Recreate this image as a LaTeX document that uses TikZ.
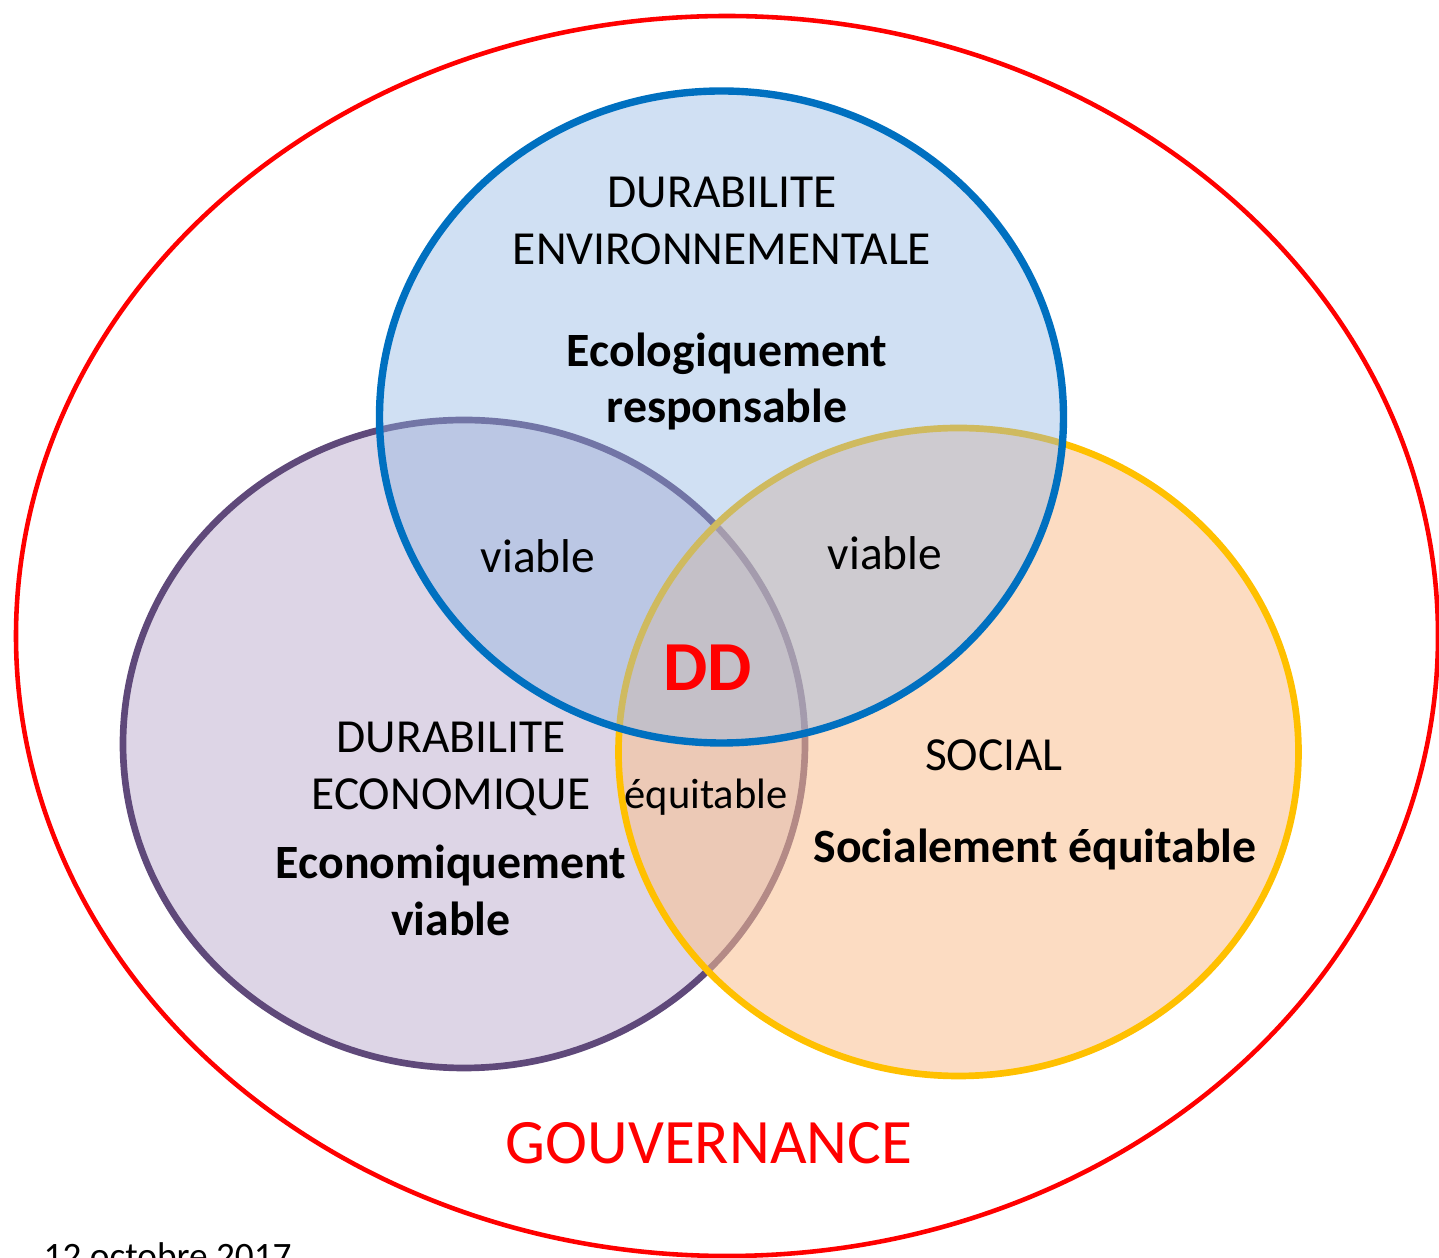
\documentclass[tikz,border=0pt]{standalone}
\usepackage{fontspec}
\setmainfont{Carlito}
\usetikzlibrary{shapes.geometric}

\definecolor{bleu}{HTML}{0070C0}
\definecolor{bleuclair}{HTML}{8EB4E3}
\definecolor{violet}{HTML}{5F497A}
\definecolor{violetclair}{HTML}{B3A2C7}
\definecolor{orange}{HTML}{FFC000}
\definecolor{orangeclair}{HTML}{FAC090}

\tikzstyle{cercle} = [ellipse, inner sep=0pt, line width=1.9pt, fill opacity=0.45]
\tikzstyle{titre} = [align=center, inner sep=0pt, font=\fontsize{13.5}{16.2}\selectfont]
\tikzstyle{qualite} = [align=center, inner sep=0pt, font=\fontsize{13.6}{16.2}\selectfont\bfseries]
\tikzstyle{lien} = [inner sep=0pt, font=\fontsize{13.5}{16}\selectfont]

\begin{document}
\begin{tikzpicture}

    \useasboundingbox (0,0) rectangle (14.39,12.58);
    \clip (0,0) rectangle (14.39,12.58);

    %  gouvernance
    \node [ellipse, draw=red, line width=1.3pt, inner sep=0pt, minimum width=14.22cm, minimum height=12.4cm] (G) at (7.27,6.22) {};

    %-------------------------------------------------------------
    \node [cercle, draw=violet, fill=violetclair, minimum width=6.82cm, minimum height=6.48cm] (ECO) at (4.64,5.14) {};
    \node [cercle, draw=orange, fill=orangeclair, fill opacity=0.55, minimum width=6.80cm, minimum height=6.48cm] (SOC) at (9.585,5.06) {};
    \node [cercle, draw=bleu, fill=bleuclair, line width=2.1pt, fill opacity=0.42, minimum width=6.84cm, minimum height=6.52cm] (ENV) at (7.215,8.41) {};

    %-------------------------------------------------------------
    \node [titre] (envT) at (7.22,10.375) {DURABILITE\\ENVIRONNEMENTALE};
    \node [qualite] (envQ) at (7.27,8.765) {Ecologiquement\\responsable};

    \node [titre] (ecoT) at (4.51,4.89) {DURABILITE\\ECONOMIQUE};
    \node [qualite] (ecoQ) at (4.51,3.68) {Economiquement\\viable};

    \node [titre] (socT) at (9.94,5.03) {SOCIAL};
    \node [qualite] (socQ) at (10.35,4.09) {Socialement équitable};

    %-------------------------------------------------------------
    \node [lien] (v1) at (5.38,7.02) {viable};
    \node [lien] (v2) at (8.85,7.05) {viable};
    \node [lien, font=\fontsize{12.1}{14}\selectfont] (eq) at (7.06,4.61) {équitable};

    \node [inner sep=0pt, text=red, font=\fontsize{20}{22}\selectfont\bfseries] (DD) at (7.08,5.90) {DD};
    \node [inner sep=0pt, text=red, font=\fontsize{18}{21}\selectfont] (gouv) at (7.09,1.15) {GOUVERNANCE};

    \node [anchor=base west, inner sep=0pt, font=\fontsize{10.6}{12}\selectfont] (date) at (0.43,-0.11) {12 octobre 2017};

\end{tikzpicture}
\end{document}
